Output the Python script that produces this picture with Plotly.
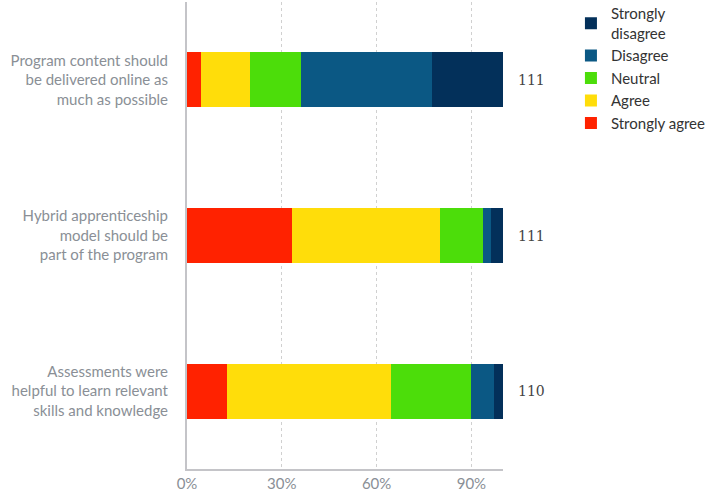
import plotly.graph_objects as go

categories = [
    "Program content should<br>be delivered online as<br>much as possible",
    "Hybrid apprenticeship<br>model should be<br>part of the program",
    "Assessments were<br>helpful to learn relevant<br>skills and knowledge",
]
counts = [111, 111, 110]
series_names = ["Strongly agree", "Agree", "Neutral", "Disagree", "Strongly<br>disagree"]
strongly_agree = [4.5, 33.3, 12.7]
agree = [15.3, 46.8, 51.8]
neutral = [16.2, 13.5, 25.5]
disagree = [41.4, 2.7, 7.3]
strongly_disagree = [22.5, 3.6, 2.7]
tick_vals = [0, 30, 60, 90]
tick_text = ["0%", "30%", "60%", "90%"]

colors = ["#FF2200", "#FFDD0A", "#4CDD0A", "#0B5884", "#03305A"]
series = [strongly_agree, agree, neutral, disagree, strongly_disagree]

fig = go.Figure()
for name, vals, col in zip(series_names, series, colors):
    fig.add_trace(go.Bar(
        y=categories, x=vals, name=name, orientation="h",
        marker=dict(color=col, line=dict(width=0)),
        hoverinfo="skip",
    ))

for cat, n in zip(categories, counts):
    fig.add_annotation(
        x=100, y=cat, xref="x", yref="y", text=str(n), showarrow=False,
        xanchor="left", xshift=13,
        font=dict(family="DejaVu Serif", size=14, color="#444444"),
    )

fig.update_layout(
    width=709, height=496,
    margin=dict(l=187, r=206, t=2, b=27, autoexpand=False),
    barmode="stack",
    bargap=0.647,
    plot_bgcolor="white", paper_bgcolor="white",
    font=dict(family="Lato", size=15, color="#8a8f96"),
    legend=dict(
        x=1.215, y=1.01, xanchor="left", yanchor="top",
        traceorder="reversed",
        font=dict(size=15, color="#333333"),
        itemsizing="constant",
        tracegroupgap=0,
    ),
    xaxis=dict(
        range=[0, 100], tickvals=tick_vals, ticktext=tick_text,
        showgrid=True, gridcolor="#d0d0d0", griddash="3px,3px", gridwidth=1,
        showline=True, linecolor="#c4c4c8", linewidth=2,
        zeroline=False, ticks="",
        tickfont=dict(size=15, color="#8a8f96"),
    ),
    yaxis=dict(
        autorange="reversed",
        showline=True, linecolor="#c4c4c8", linewidth=2,
        showgrid=False, ticks="",
        ticklabelstandoff=14,
        tickfont=dict(size=15, color="#8a8f96"),
    ),
)

fig.write_html("out.html")
